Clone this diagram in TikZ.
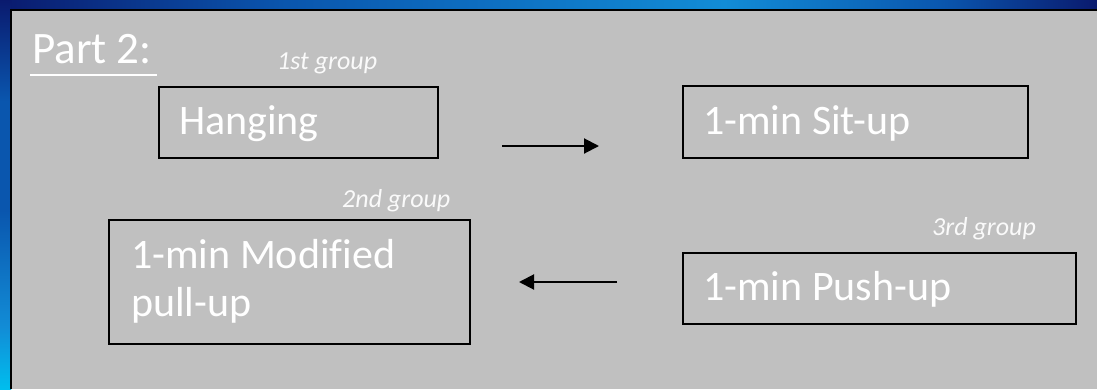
\documentclass[tikz,border=0pt]{standalone}
\usepackage{fontspec}
\setmainfont{Carlito}[Ligatures=NoCommon]
\usetikzlibrary{arrows.meta}

\definecolor{navy}{HTML}{0A1A6E}
\definecolor{midblue}{HTML}{0A56AE}
\definecolor{lightblue}{HTML}{128CD6}
\definecolor{cyanblue}{HTML}{00BEEE}
\definecolor{panel}{HTML}{C0C0C0}

% frame bands: stops between 25bp and 75bp span the filled path
\pgfdeclarehorizontalshading{topband}{100bp}{color(0bp)=(navy); color(25bp)=(navy);
  color(38bp)=(midblue); color(58bp)=(lightblue); color(68bp)=(midblue);
  color(75bp)=(navy); color(100bp)=(navy)}
\pgfdeclareverticalshading{sideband}{100bp}{color(0bp)=(cyanblue); color(25bp)=(cyanblue);
  color(33bp)=(lightblue); color(48bp)=(midblue); color(62bp)=(midblue);
  color(75bp)=(navy); color(100bp)=(navy)}

\begin{document}
\begin{tikzpicture}[x=1pt,y=-1pt,
  stepbox/.style={draw=black, line width=1.8pt, fill=none, inner sep=0pt, anchor=north west},
  boxtext/.style={text=white, inner sep=0pt, anchor=base west, font=\fontsize{42}{48.5}\selectfont},
  grouptext/.style={text=white!96!gray, inner sep=0pt, anchor=base west, font=\itshape\fontsize{26}{30}\selectfont},
  flow/.style={draw=black, line width=2pt, -{Triangle[length=15pt,width=15pt]}}]
\useasboundingbox (0,0) rectangle (1097,389);

% blue frame and grey panel
\shade[shading=topband] (0,0) rectangle (1097,11);
\shade[shading=sideband] (0,0) rectangle (11,389);
\fill[panel] (11,10) rectangle (1097,389);
\draw[black, line width=2pt] (11,389) -- (11,10) -- (1097,10);

% title
\node[text=white, inner sep=0pt, anchor=base west, font=\fontsize{45}{50}\selectfont] (title) at (32,63) {Part 2:};
\draw[white, line width=2.2pt] (30,75) -- (157,75);

% stations
\node[stepbox, minimum width=279pt, minimum height=71pt] (hang) at (158,86) {};
\node[boxtext] (hangtxt) at ([shift={(21,48)}]hang.north west) {Hanging};
\node[grouptext] (g1) at (277,69) {1st group};

\node[stepbox, minimum width=345pt, minimum height=72pt] (situp) at (682,85) {};
\node[boxtext] (situptxt) at ([shift={(21,49)}]situp.north west) {1-min Sit-up};

\node[stepbox, minimum width=361pt, minimum height=124pt] (pull) at (108,219) {};
\node[boxtext] (pulltxt) at ([shift={(23,49)}]pull.north west)
  {\parbox[t]{330pt}{\raggedright 1-min Modified\\pull-up}};
\node[grouptext] (g2) at (342,207) {2nd group};

\node[stepbox, minimum width=393pt, minimum height=71pt] (push) at (682,252) {};
\node[boxtext] (pushtxt) at ([shift={(21,48)}]push.north west) {1-min Push-up};
\node[grouptext] (g3) at (932,235) {3rd group};

% order of rotation
\coordinate (a1s) at (502,146);
\coordinate (a1e) at (599,146);
\coordinate (a2s) at (617,282);
\coordinate (a2e) at (519,282);
\draw[flow] (a1s) -- (a1e);
\draw[flow] (a2s) -- (a2e);
\end{tikzpicture}
\end{document}
